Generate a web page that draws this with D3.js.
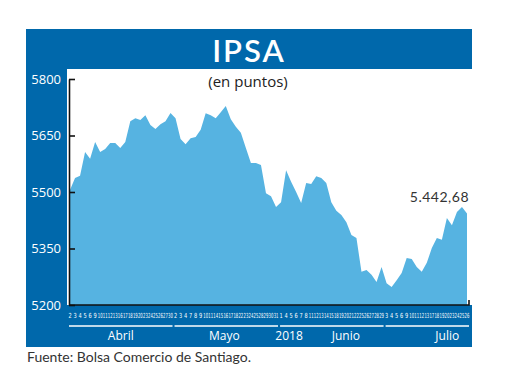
<!DOCTYPE html>
<html>
<head>
<meta charset="utf-8">
<script src="https://cdnjs.cloudflare.com/ajax/libs/d3/7.8.5/d3.min.js"></script>
<style>
  body { margin: 0; background: #fff; }
  svg { display: block; }
</style>
</head>
<body>
<script>
// Trading days per month (2018)
var aprilDays = [2, 3, 4, 5, 6, 9, 10, 11, 12, 13, 16, 17, 18, 19, 20, 23, 24, 25, 26, 27, 30];
var mayDays = [2, 3, 4, 7, 8, 9, 10, 11, 14, 15, 16, 17, 18, 22, 23, 24, 25, 28, 29, 30, 31];
var juneDays = [1, 4, 5, 6, 7, 8, 11, 12, 13, 14, 15, 18, 19, 20, 21, 22, 25, 26, 27, 28, 29];
var julyDays = [3, 4, 5, 6, 9, 10, 11, 12, 13, 17, 18, 19, 20, 23, 24, 25, 26];
var monthNames = ["Abril", "Mayo", "Junio", "Julio"];

// IPSA closing values
var aprilValues = [5505, 5537, 5543, 5606, 5588, 5633, 5606, 5614, 5630, 5630, 5617,
  5633, 5688, 5696, 5691, 5704, 5678, 5667, 5680, 5688, 5710];
var mayValues = [5696, 5641, 5627, 5643, 5646, 5665, 5709, 5704, 5696, 5712, 5728,
  5693, 5673, 5657, 5617, 5577, 5577, 5572, 5497, 5489, 5460];
var juneValues = [5473, 5558, 5527, 5500, 5471, 5524, 5521, 5542, 5537, 5524, 5473,
  5450, 5439, 5420, 5386, 5378, 5288, 5293, 5280, 5261, 5301];
var julyValues = [5258, 5248, 5266, 5285, 5325, 5322, 5301, 5288, 5312, 5351, 5378,
  5373, 5431, 5412, 5447, 5460, 5442.68];

var yTicks = [5800, 5650, 5500, 5350, 5200];
var lastLabel = "5.442,68";

var monthDays = [aprilDays, mayDays, juneDays, julyDays];
var monthValues = [aprilValues, mayValues, juneValues, julyValues];

// Flatten into one series
var data = [];
monthDays.forEach(function(days, m) {
  days.forEach(function(d, i) {
    data.push({ key: m + "-" + d, month: m, day: d, value: monthValues[m][i] });
  });
});

var blue = "#0068ab";
var fill = "#56b3e1";

var svg = d3.select("body").append("svg")
  .attr("width", 520)
  .attr("height", 390);

// Frame: blue panel with white plotting window
svg.append("rect")
  .attr("x", 26).attr("y", 29)
  .attr("width", 446).attr("height", 318)
  .attr("fill", blue);
svg.append("rect")
  .attr("x", 67).attr("y", 69)
  .attr("width", 406).attr("height", 236)
  .attr("fill", "#fff");

// Scales
var x = d3.scalePoint()
  .domain(data.map(d => d.key))
  .range([70, 467]);

var y = d3.scaleLinear()
  .domain([5200, 5800])
  .range([305, 79]);

// Area
var area = d3.area()
  .x(d => x(d.key))
  .y0(y(5200))
  .y1(d => y(d.value));

svg.append("path")
  .datum(data)
  .attr("d", area)
  .attr("fill", fill);

// Y axis
var yAxis = d3.axisLeft(y)
  .tickValues(yTicks)
  .tickFormat(d3.format("d"))
  .tickSizeInner(-6)
  .tickSizeOuter(0)
  .tickPadding(8);

var yg = svg.append("g")
  .attr("transform", "translate(69,0)")
  .call(yAxis);
yg.select(".domain").attr("stroke", "#111").attr("stroke-width", 1.6);
yg.selectAll(".tick line").attr("stroke", "#111").attr("stroke-width", 1.6);
yg.selectAll(".tick text")
  .attr("fill", "#fff")
  .style("font-family", "'Open Sans', sans-serif")
  .style("font-size", "13px");

// Bottom baseline with the little end tick
svg.append("path")
  .attr("d", "M69," + y(5200) + "H469V" + (y(5200) - 5))
  .attr("fill", "none")
  .attr("stroke", "#111")
  .attr("stroke-width", 1.6);

// Day labels, squeezed horizontally as in the print
svg.append("g").selectAll("text")
  .data(data)
  .enter()
  .append("text")
  .attr("transform", d => "translate(" + x(d.key) + ",318) scale(" + (d.day > 9 ? 0.6 : 0.8) + ",1)")
  .attr("text-anchor", "middle")
  .attr("fill", "#fff")
  .style("font-family", "'Liberation Sans Narrow', 'DejaVu Sans Condensed', sans-serif")
  .style("font-size", "7px")
  .text(d => d.day);

// Month underlines and labels
var monthLabelShift = [0, -2, 14, 20];
monthDays.forEach(function(days, m) {
  var x0 = x(m + "-" + days[0]) - 1;
  var x1 = x(m + "-" + days[days.length - 1]) + 2;
  svg.append("line")
    .attr("x1", x0).attr("x2", x1)
    .attr("y1", 326).attr("y2", 326)
    .attr("stroke", "#fff")
    .attr("stroke-width", 1.3);
  svg.append("text")
    .attr("x", (x0 + x1) / 2 + monthLabelShift[m])
    .attr("y", 340)
    .attr("text-anchor", "middle")
    .attr("fill", "#fff")
    .style("font-family", "'Open Sans', sans-serif")
    .style("font-size", "12px")
    .text(monthNames[m]);
});

// Year label near the start of June
svg.append("text")
  .attr("x", x("2-" + juneDays[0]) + 8)
  .attr("y", 340)
  .attr("text-anchor", "middle")
  .attr("fill", "#fff")
  .style("font-family", "'Open Sans', sans-serif")
  .style("font-size", "12px")
  .text("2018");

// Title
svg.append("text")
  .attr("x", 249)
  .attr("y", 62)
  .attr("text-anchor", "middle")
  .attr("fill", "#fff")
  .style("font-family", "Lato, sans-serif")
  .style("font-weight", "600")
  .style("font-size", "31px")
  .style("letter-spacing", "2px")
  .text("IPSA");

svg.append("text")
  .attr("x", 248)
  .attr("y", 87)
  .attr("text-anchor", "middle")
  .attr("fill", "#222")
  .style("font-family", "'Open Sans', sans-serif")
  .style("font-size", "15px")
  .text("(en puntos)");

// Last value annotation
var last = data[data.length - 1];
svg.append("text")
  .attr("x", x(last.key) + 2)
  .attr("y", y(last.value) - 12)
  .attr("text-anchor", "end")
  .attr("fill", "#333")
  .style("font-family", "Lato, sans-serif")
  .style("font-size", "14px")
  .style("letter-spacing", "0.5px")
  .text(lastLabel);

// Source
svg.append("text")
  .attr("x", 27)
  .attr("y", 362)
  .attr("fill", "#333")
  .style("font-family", "Lato, sans-serif")
  .style("font-size", "14px")
  .text("Fuente: Bolsa Comercio de Santiago.");
</script>
</body>
</html>
